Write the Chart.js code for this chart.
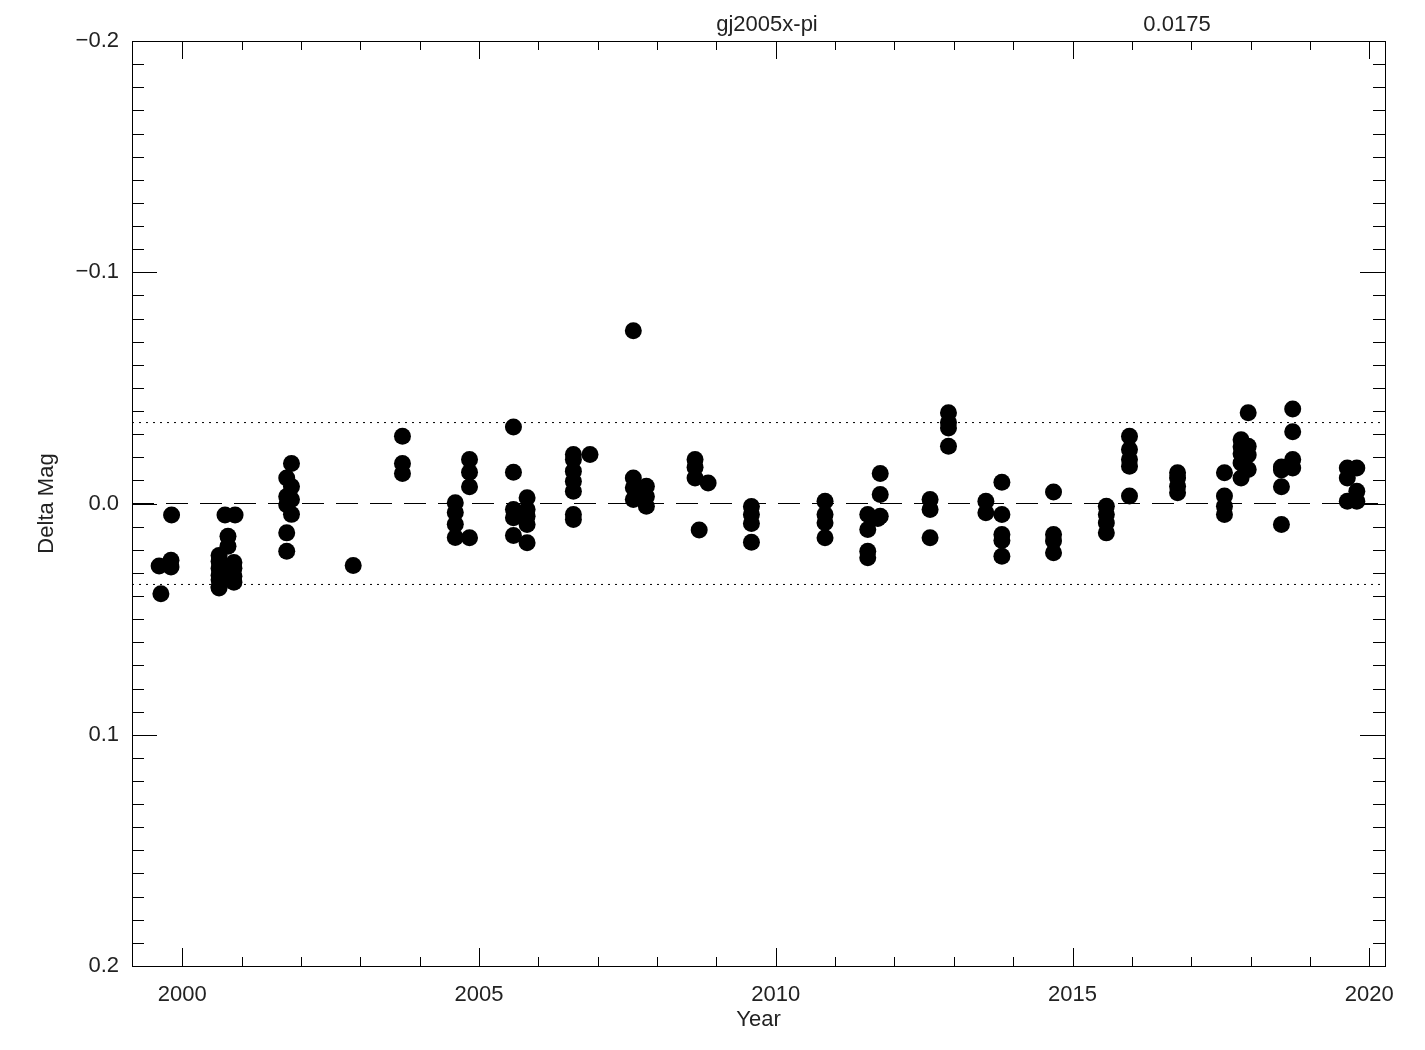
<!DOCTYPE html>
<html>
<head>
<meta charset="utf-8">
<title>gj2005x-pi</title>
<script src="https://cdn.jsdelivr.net/npm/chart.js@4.4.1/dist/chart.umd.min.js"></script>
<style>
  html, body { margin: 0; padding: 0; background: #fff; }
  canvas { display: block; }
</style>
</head>
<body>
<canvas id="magChart" width="1425" height="1050"></canvas>
<script>
const obsYear = [
  1999.64, 1999.61, 1999.81, 1999.81, 1999.82,
  2000.62, 2000.62, 2000.62, 2000.62, 2000.62, 2000.62, 2000.62,
  2000.87, 2000.87, 2000.87, 2000.87,
  2000.77, 2000.77, 2000.72, 2000.89,
  2001.84, 2001.76, 2001.84, 2001.76, 2001.84, 2001.76, 2001.84, 2001.76, 2001.76,
  2002.88,
  2003.71, 2003.71, 2003.71,
  2004.60, 2004.60, 2004.60, 2004.60, 2004.84, 2004.84, 2004.84, 2004.84,
  2005.58, 2005.58, 2005.58, 2005.58, 2005.58, 2005.81, 2005.81, 2005.81, 2005.81, 2005.81,
  2006.59, 2006.59, 2006.59, 2006.59, 2006.59, 2006.59, 2006.59, 2006.87,
  2007.60, 2007.60, 2007.60, 2007.82, 2007.82, 2007.82, 2007.60,
  2008.64, 2008.64, 2008.64, 2008.86, 2008.71,
  2009.59, 2009.59, 2009.59, 2009.59,
  2010.83, 2010.83, 2010.83, 2010.83,
  2011.55, 2011.55, 2011.55, 2011.55, 2011.76, 2011.76, 2011.76, 2011.72,
  2012.60, 2012.60, 2012.60,
  2012.91, 2012.91, 2012.91, 2012.91,
  2013.54, 2013.54,
  2013.81, 2013.81, 2013.81, 2013.81, 2013.81,
  2014.68, 2014.68, 2014.68, 2014.68,
  2015.57, 2015.57, 2015.57, 2015.57,
  2015.96, 2015.96, 2015.96, 2015.96, 2015.96,
  2016.77, 2016.77, 2016.77, 2016.77,
  2017.56, 2017.56, 2017.56, 2017.56,
  2017.84, 2017.84, 2017.84, 2017.84, 2017.84,
  2017.96, 2017.96, 2017.96, 2017.96,
  2018.52, 2018.52, 2018.52, 2018.52,
  2018.71, 2018.71, 2018.71, 2018.71,
  2019.63, 2019.63, 2019.63,
  2019.79, 2019.79, 2019.79
];
const deltaMag = [
  0.039, 0.027, 0.0245, 0.0275, 0.005,
  0.0225, 0.025, 0.028, 0.031, 0.033, 0.036, 0.0365,
  0.0255, 0.028, 0.0315, 0.034,
  0.0142, 0.0185, 0.005, 0.005,
  -0.0173, -0.011, -0.0073, -0.003, -0.0017, 0.0005, 0.0047, 0.0127, 0.0206,
  0.0268,
  -0.0291, -0.0173, -0.013,
  -0.0003, 0.0039, 0.009, 0.0147, 0.0148, -0.019, -0.0135, -0.0072,
  -0.0331, -0.0135, 0.0026, 0.0062, 0.0138, -0.0025, 0.0026, 0.0055, 0.0091, 0.017,
  -0.0212, -0.019, -0.014, -0.0096, -0.0053, 0.0048, 0.0069, -0.0212,
  -0.011, -0.0068, -0.0017, -0.0075, -0.003, 0.0012, -0.0747,
  -0.019, -0.0157, -0.011, -0.0089, 0.0115,
  0.0013, 0.0048, 0.0086, 0.0168,
  -0.001, 0.0048, 0.0083, 0.0148,
  0.0048, 0.0112, 0.0206, 0.0235, -0.013, -0.0039, 0.0055, 0.0065,
  -0.0017, 0.0026, 0.0148,
  -0.0392, -0.035, -0.0327, -0.0248,
  -0.001, 0.004,
  -0.0092, 0.0048, 0.0134, 0.016, 0.0228,
  -0.005, 0.0134, 0.0162, 0.0213,
  0.0012, 0.0048, 0.0084, 0.0127,
  -0.0291, -0.0233, -0.019, -0.0161, -0.0032,
  -0.0133, -0.011, -0.0075, -0.0046,
  -0.0133, -0.0032, 0.0012, 0.0048,
  -0.0276, -0.0245, -0.0215, -0.0175, -0.011,
  -0.0392, -0.0248, -0.021, -0.0147,
  -0.0158, -0.0145, -0.0072, 0.0091,
  -0.0409, -0.031, -0.019, -0.0154,
  -0.0154, -0.011, -0.001,
  -0.0154, -0.0053, -0.001
];

// reference levels
const zeroLevel = 0;
const limitLevels = [-0.035, 0.035];

// axis ranges and labelled ticks
const yearRange = [1999.153, 2020.265];
const magRange = [-0.2, 0.2];
const yearLabels = [2000, 2005, 2010, 2015, 2020];
const magLabels = [-0.2, -0.1, 0.0, 0.1, 0.2];

const headerLeft = "gj2005x-pi";
const headerRight = "0.0175";

const points = obsYear.map((yr, i) => ({ x: yr, y: deltaMag[i] }));
const span = (level) => [
  { x: yearRange[0], y: level },
  { x: yearRange[1], y: level },
];

const isLabel = (list, v) => list.some((l) => Math.abs(l - v) < 1e-6);
const fmtMag = (v) => (v < 0 ? "\u2212" : "") + Math.abs(v).toFixed(1);

Chart.defaults.font.family = "'Liberation Sans', Arial, sans-serif";
Chart.defaults.font.size = 22;
Chart.defaults.color = "#222";

// IDL style box: frame all round, ticks pointing inwards on all four sides
const boxTicks = {
  id: "boxTicks",
  afterDraw(chart) {
    const { ctx, chartArea: a, scales } = chart;
    const x = scales.x;
    const y = scales.y;
    ctx.save();
    ctx.strokeStyle = "#000";
    ctx.lineWidth = 1;
    ctx.strokeRect(a.left + 0.5, a.top + 0.5, a.right - a.left, a.bottom - a.top);
    ctx.beginPath();
    x.ticks.forEach((t) => {
      const px = Math.round(x.getPixelForValue(t.value)) + 0.5;
      const len = t.label ? 18 : 9;
      ctx.moveTo(px, a.bottom);
      ctx.lineTo(px, a.bottom - len);
      ctx.moveTo(px, a.top);
      ctx.lineTo(px, a.top + len);
    });
    y.ticks.forEach((t) => {
      const py = Math.round(y.getPixelForValue(t.value)) + 0.5;
      const len = t.label ? 25 : 12;
      ctx.moveTo(a.left, py);
      ctx.lineTo(a.left + len, py);
      ctx.moveTo(a.right, py);
      ctx.lineTo(a.right - len, py);
    });
    ctx.stroke();

    ctx.fillStyle = "#222";
    ctx.font = "22px 'Liberation Sans', Arial, sans-serif";
    ctx.textAlign = "center";
    ctx.textBaseline = "middle";
    ctx.fillText(headerLeft, 767, 25);
    ctx.fillText(headerRight, 1177, 25);
    ctx.restore();
  },
};

const ctx = document.getElementById("magChart");

new Chart(ctx, {
  type: "scatter",
  data: {
    datasets: [
      {
        label: "Delta Mag",
        data: points,
        backgroundColor: "#000",
        borderWidth: 0,
        pointRadius: 8.5,
        pointHoverRadius: 8.5,
        order: 0,
      },
      {
        type: "line",
        label: "zero",
        data: span(zeroLevel),
        borderColor: "#000",
        borderWidth: 1,
        borderDash: [22, 12],
        pointRadius: 0,
        order: 1,
      },
      ...limitLevels.map((lv) => ({
        type: "line",
        label: "limit",
        data: span(lv),
        borderColor: "#000",
        borderWidth: 1,
        borderDash: [2, 5],
        pointRadius: 0,
        order: 1,
      })),
    ],
  },
  options: {
    responsive: false,
    animation: false,
    devicePixelRatio: 1,
    layout: { padding: { left: 0, top: 41, right: 40, bottom: 0 } },
    plugins: {
      legend: { display: false },
      tooltip: { enabled: false },
    },
    scales: {
      x: {
        type: "linear",
        min: yearRange[0],
        max: yearRange[1],
        grid: { display: false, drawTicks: false },
        border: { display: false },
        ticks: {
          stepSize: 1,
          includeBounds: false,
          autoSkip: false,
          maxRotation: 0,
          padding: 16,
          color: "#222",
          callback: (v) => (isLabel(yearLabels, v) ? String(Math.round(v)) : ""),
        },
        title: {
          display: true,
          text: "Year",
          color: "#222",
          padding: { top: 0, bottom: 17 },
        },
        afterFit: (scale) => {
          scale.height = 84;
        },
      },
      y: {
        type: "linear",
        reverse: true,
        min: magRange[0],
        max: magRange[1],
        grid: { display: false, drawTicks: false },
        border: { display: false },
        ticks: {
          stepSize: 0.01,
          includeBounds: false,
          autoSkip: false,
          padding: 13,
          color: "#222",
          callback: (v) => (isLabel(magLabels, v) ? fmtMag(v) : ""),
        },
        title: {
          display: true,
          text: "Delta Mag",
          color: "#222",
          padding: { top: 34, bottom: 0 },
        },
        afterFit: (scale) => {
          scale.width = 132;
        },
      },
    },
  },
  plugins: [boxTicks],
});
</script>
</body>
</html>
